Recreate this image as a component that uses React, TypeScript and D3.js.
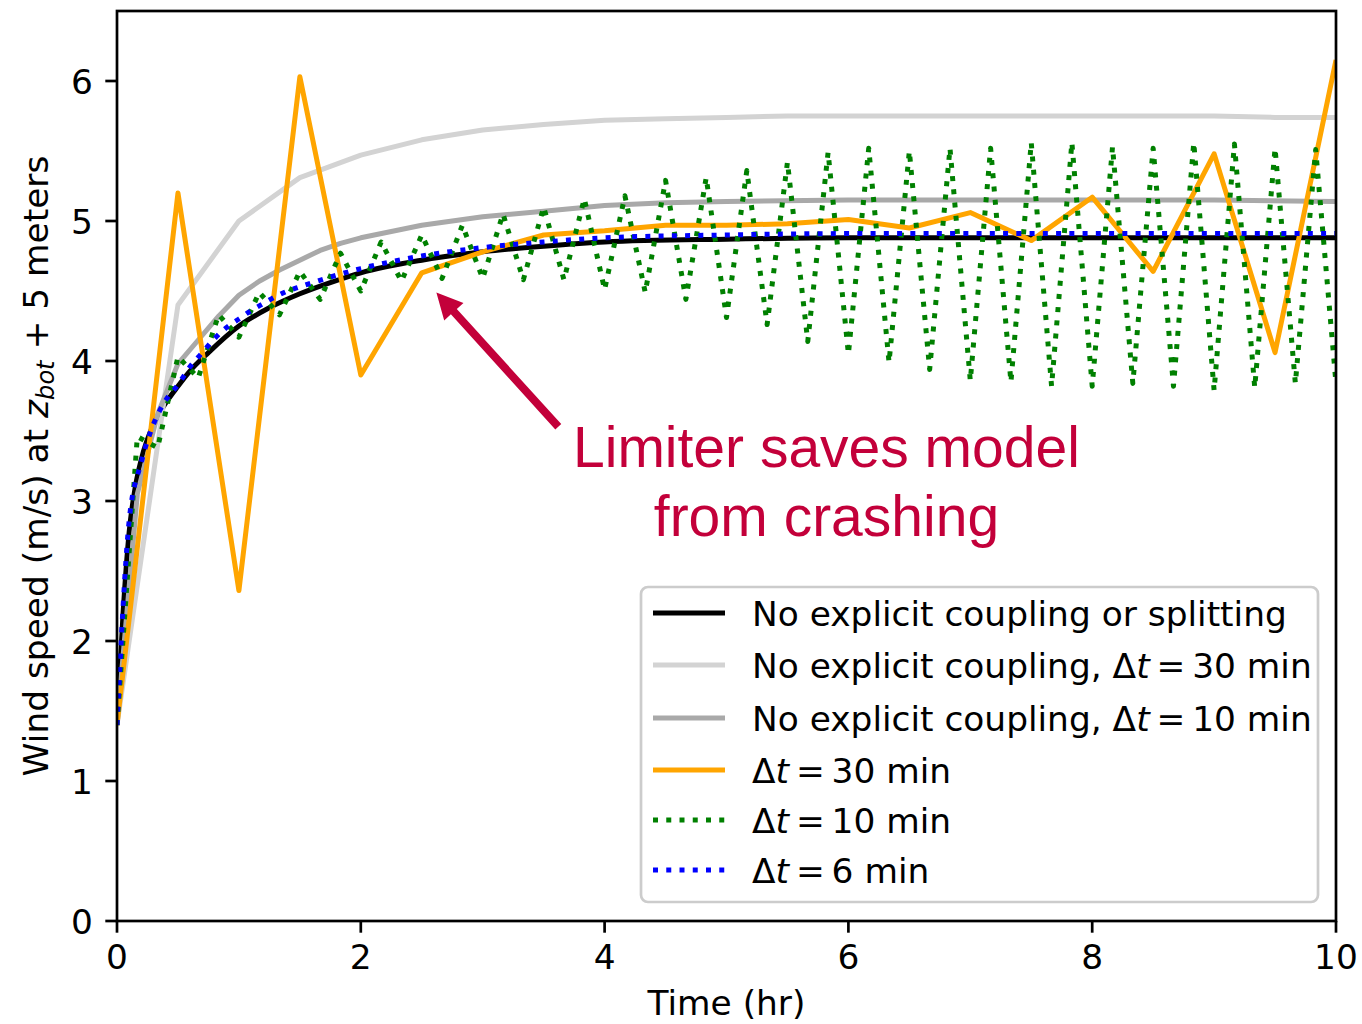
import React from "react";
import * as d3 from "d3";

// ---------- data ----------
const xTicks = [0, 2, 4, 6, 8, 10];
const yTicks = [0, 1, 2, 3, 4, 5, 6];

// No explicit coupling or splitting (smooth reference)
const refT = [0, 0.05, 0.1, 0.15, 0.2, 0.3, 0.4, 0.5, 0.6, 0.75, 1.0, 1.25, 1.5, 1.75, 2.0, 2.5, 3.0, 3.5, 4.0, 5.0, 6.0, 7.0, 8.0, 9.0, 10.0];
const refV = [1.4, 2.2, 2.78, 3.1, 3.3, 3.55, 3.7, 3.82, 3.93, 4.06, 4.25, 4.38, 4.48, 4.56, 4.63, 4.72, 4.78, 4.82, 4.85, 4.87, 4.88, 4.88, 4.88, 4.88, 4.88];

// No explicit coupling, dt = 30 min
const nc30T = [0, 0.5, 1, 1.5, 2, 2.5, 3, 3.5, 4, 4.5, 5, 5.5, 6, 6.5, 7, 7.5, 8, 8.5, 9, 9.5, 10];
const nc30V = [1.4, 4.4, 5.0, 5.31, 5.47, 5.58, 5.65, 5.69, 5.72, 5.73, 5.74, 5.75, 5.75, 5.75, 5.75, 5.75, 5.75, 5.75, 5.75, 5.74, 5.74];

// No explicit coupling, dt = 10 min
const nc10T = [0, 1 / 6, 2 / 6, 0.5, 4 / 6, 5 / 6, 1, 7 / 6, 8 / 6, 1.5, 10 / 6, 11 / 6, 2, 2.5, 3, 3.5, 4, 4.5, 5, 6, 7, 8, 9, 10];
const nc10V = [1.4, 3.05, 3.62, 3.98, 4.15, 4.32, 4.47, 4.57, 4.65, 4.72, 4.79, 4.84, 4.88, 4.97, 5.03, 5.07, 5.11, 5.13, 5.14, 5.15, 5.15, 5.15, 5.15, 5.14];

// dt = 30 min (with limiter)
const dt30T = [0, 0.5, 1, 1.5, 2, 2.5, 3, 3.5, 4, 4.5, 5, 5.5, 6, 6.5, 7, 7.5, 8, 8.5, 9, 9.5, 10];
const dt30V = [1.4, 5.2, 2.36, 6.03, 3.9, 4.63, 4.78, 4.9, 4.93, 4.97, 4.97, 4.98, 5.01, 4.95, 5.06, 4.86, 5.17, 4.64, 5.48, 4.06, 6.15];

// dt = 10 min (values every 10 minutes, t = k/6 hr)
const dt10V = [
  1.4, 3.46, 3.38, 4.03, 3.88, 4.33, 4.17, 4.49, 4.33, 4.64,
  4.44, 4.77, 4.5, 4.85, 4.57, 4.9, 4.59, 4.97, 4.59, 5.05,
  4.58, 5.1, 4.58, 5.16, 4.51, 5.18, 4.49, 5.29, 4.44, 5.31,
  4.31, 5.36, 4.26, 5.42, 4.14, 5.49, 4.05, 5.52, 3.99, 5.5,
  3.94, 5.52, 3.86, 5.52, 3.85, 5.56, 3.82, 5.56, 3.82, 5.53,
  3.84, 5.52, 3.82, 5.56, 3.79, 5.55, 3.81, 5.52, 3.84, 5.51,
  3.84,
];
const dt10Step = 1 / 6;

// dt = 6 min
const dt6T = [0, 0.1, 0.2, 0.3, 0.4, 0.5, 0.6, 0.7, 0.8, 0.9, 1.0, 1.1, 1.2, 1.3, 1.4, 1.5, 2.0, 2.5, 3.0, 3.5, 4.0, 5.0, 6.0, 7.0, 8.0, 9.0, 10.0];
const dt6V = [1.4, 2.86, 3.28, 3.55, 3.72, 3.83, 3.96, 4.06, 4.16, 4.24, 4.3, 4.36, 4.41, 4.46, 4.5, 4.53, 4.66, 4.75, 4.81, 4.85, 4.88, 4.9, 4.91, 4.91, 4.91, 4.91, 4.91];

const legendLabels = [
  { pre: "No explicit coupling or splitting", math: null as null | string },
  { pre: "No explicit coupling, ", math: "30" },
  { pre: "No explicit coupling, ", math: "10" },
  { pre: "", math: "30" },
  { pre: "", math: "10" },
  { pre: "", math: "6" },
];

// ---------- layout ----------
const W = 1362;
const H = 1024;
const L = 117, R = 1336, T = 11, B = 921;
const FONT = "DejaVu Sans, sans-serif";
const FS = 34.4;
const LW = 5;
const ANNOT = "#C3003A";

type S = { t: number[]; v: number[]; color: string; dash?: string; curve: any };

export default function App() {
  const x = d3.scaleLinear().domain([0, 10]).range([L, R]);
  const y = d3.scaleLinear().domain([0, 6.5]).range([B, T]);

  const dt10T = dt10V.map((_, i) => i * dt10Step);

  const series: S[] = [
    { t: refT, v: refV, color: "#000000", curve: d3.curveMonotoneX },
    { t: nc30T, v: nc30V, color: "#d3d3d3", curve: d3.curveLinear },
    { t: nc10T, v: nc10V, color: "#a9a9a9", curve: d3.curveLinear },
    { t: dt30T, v: dt30V, color: "#ffa500", curve: d3.curveLinear },
    { t: dt10T, v: dt10V, color: "#008000", dash: "5,8.25", curve: d3.curveLinear },
    { t: dt6T, v: dt6V, color: "#0000ff", dash: "5,8.25", curve: d3.curveMonotoneX },
  ];

  const paths = series.map((s) => {
    const gen = d3
      .line<number>()
      .x((_, i) => x(s.t[i]))
      .y((d) => y(d))
      .curve(s.curve);
    return gen(s.v) || "";
  });

  // arrow geometry (data coords of tip and tail)
  const tip = [x(2.62), y(4.49)];
  const tail = [x(3.62), y(3.53)];
  const dx = tip[0] - tail[0];
  const dy = tip[1] - tail[1];
  const len = Math.hypot(dx, dy);
  const ux = dx / len, uy = dy / len;
  const px = -uy, py = ux;
  const headLen = 26, headHalf = 13, shaftHalf = 4;
  const bx = tip[0] - ux * headLen, by = tip[1] - uy * headLen;
  const arrowPts = [
    [tail[0] + px * shaftHalf, tail[1] + py * shaftHalf],
    [bx + px * shaftHalf, by + py * shaftHalf],
    [bx + px * headHalf, by + py * headHalf],
    [tip[0], tip[1]],
    [bx - px * headHalf, by - py * headHalf],
    [bx - px * shaftHalf, by - py * shaftHalf],
    [tail[0] - px * shaftHalf, tail[1] - py * shaftHalf],
  ]
    .map((p) => p.join(","))
    .join(" ");

  const legendY = [613, 665, 718, 770, 820, 870];

  return (
    <svg
      width={W}
      height={H}
      style={{ position: "absolute", left: 0, top: 0, background: "#fff" }}
      fontFamily={FONT}
    >
      <rect x={0} y={0} width={W} height={H} fill="#fff" />
      <defs>
        <clipPath id="plotclip">
          <rect x={L} y={T} width={R - L} height={B - T} />
        </clipPath>
      </defs>

      <g clipPath="url(#plotclip)">
        {series.map((s, i) => (
          <path
            key={i}
            d={paths[i]}
            fill="none"
            stroke={s.color}
            strokeWidth={LW}
            strokeDasharray={s.dash}
            strokeLinejoin="round"
            strokeLinecap="butt"
          />
        ))}
      </g>

      {/* annotation */}
      <polygon points={arrowPts} fill={ANNOT} />
      <text
        x={x(5.82)}
        y={467}
        textAnchor="middle"
        fontFamily="Liberation Sans, Arial, sans-serif"
        fontSize={57}
        fill={ANNOT}
      >
        Limiter saves model
      </text>
      <text
        x={x(5.82)}
        y={536}
        textAnchor="middle"
        fontFamily="Liberation Sans, Arial, sans-serif"
        fontSize={57}
        fill={ANNOT}
      >
        from crashing
      </text>

      {/* legend */}
      <rect
        x={641}
        y={587}
        width={677}
        height={315}
        rx={7}
        fill="#ffffff"
        fillOpacity={0.8}
        stroke="#cccccc"
        strokeWidth={2.7}
      />
      {legendLabels.map((lab, i) => {
        const s = series[i];
        const yy = legendY[i];
        return (
          <g key={i}>
            <line
              x1={653}
              x2={725}
              y1={yy}
              y2={yy}
              stroke={s.color}
              strokeWidth={LW}
              strokeDasharray={s.dash}
            />
            <text x={752} y={yy + 12.5} fontSize={FS} fill="#000">
              {lab.pre ? <tspan>{lab.pre}</tspan> : null}
              {lab.math !== null ? (
                <>
                  <tspan>Δ</tspan>
                  <tspan fontStyle="italic">t</tspan>
                  <tspan>{"\u2009=\u2009" + lab.math + " min"}</tspan>
                </>
              ) : null}
            </text>
          </g>
        );
      })}

      {/* axes frame */}
      <rect x={L} y={T} width={R - L} height={B - T} fill="none" stroke="#000" strokeWidth={2.7} />

      {/* x ticks */}
      {xTicks.map((t) => (
        <g key={"x" + t}>
          <line x1={x(t)} x2={x(t)} y1={B} y2={B + 11.7} stroke="#000" strokeWidth={2.7} />
          <text x={x(t)} y={969} textAnchor="middle" fontSize={FS} fill="#000">
            {t}
          </text>
        </g>
      ))}
      {/* y ticks */}
      {yTicks.map((v) => (
        <g key={"y" + v}>
          <line x1={L - 11.7} x2={L} y1={y(v)} y2={y(v)} stroke="#000" strokeWidth={2.7} />
          <text x={93} y={y(v) + 12.5} textAnchor="end" fontSize={FS} fill="#000">
            {v}
          </text>
        </g>
      ))}

      {/* axis labels */}
      <text x={(L + R) / 2} y={1015} textAnchor="middle" fontSize={FS} fill="#000">
        Time (hr)
      </text>
      <text
        transform={`translate(48,${(T + B) / 2}) rotate(-90)`}
        textAnchor="middle"
        fontSize={FS}
        fill="#000"
      >
        <tspan>Wind speed (m/s) at </tspan>
        <tspan fontStyle="italic">z</tspan>
        <tspan fontStyle="italic" fontSize={FS * 0.7} dy={6}>
          bot
        </tspan>
        <tspan dy={-6}>{" + 5 meters"}</tspan>
      </text>
    </svg>
  );
}
